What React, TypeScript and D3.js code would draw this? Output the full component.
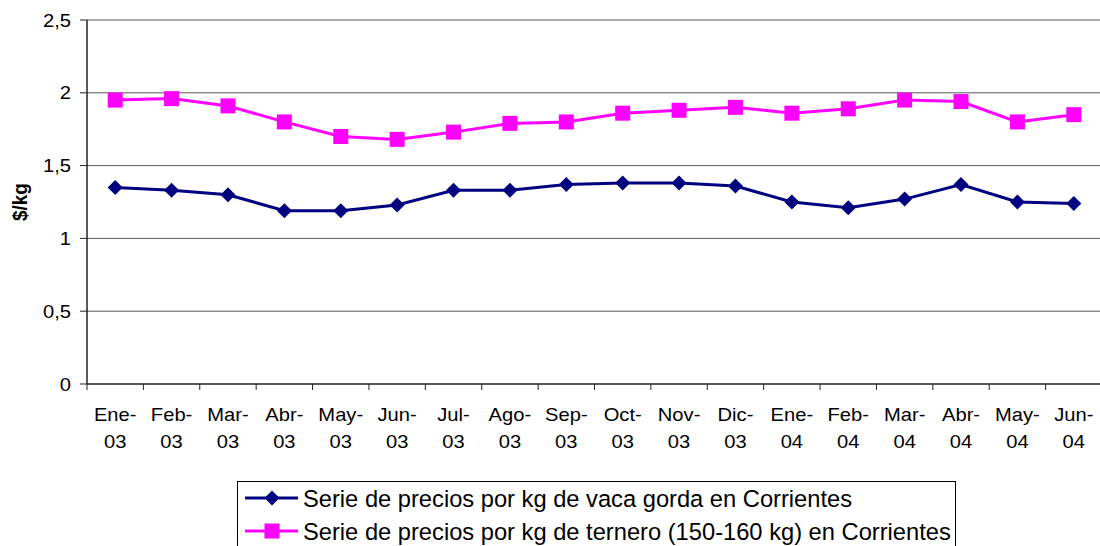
import React from "react";
import * as d3 from "d3";

const categories = [
  "Ene-03", "Feb-03", "Mar-03", "Abr-03", "May-03", "Jun-03", "Jul-03", "Ago-03", "Sep-03",
  "Oct-03", "Nov-03", "Dic-03", "Ene-04", "Feb-04", "Mar-04", "Abr-04", "May-04", "Jun-04",
];
const vacaGorda = [1.35, 1.33, 1.30, 1.19, 1.19, 1.23, 1.33, 1.33, 1.37, 1.38, 1.38, 1.36, 1.25, 1.21, 1.27, 1.37, 1.25, 1.24];
const ternero = [1.95, 1.96, 1.91, 1.80, 1.70, 1.68, 1.73, 1.79, 1.80, 1.86, 1.88, 1.90, 1.86, 1.89, 1.95, 1.94, 1.80, 1.85];
const yTicks = [0, 0.5, 1, 1.5, 2, 2.5];
const seriesNames = [
  "Serie de precios por kg de vaca gorda en Corrientes",
  "Serie de precios por kg de ternero (150-160 kg) en Corrientes",
];

const W = 1100, H = 546;
const left = 87, right = 1102, top = 20, bottom = 384;
const BLUE = "#000080", PINK = "#FF00FF";
const FONT = "Arial, 'Liberation Sans', sans-serif";

export default function App() {
  const x = d3.scaleBand<string>().domain(categories).range([left, right]);
  const y = d3.scaleLinear().domain([0, 2.5]).range([bottom, top]);
  const cx = (c: string) => (x(c) as number) + x.bandwidth() / 2;
  const line = d3.line<number>().x((_, i) => cx(categories[i])).y((d) => y(d));
  const diamond = (px: number, py: number, r: number) =>
    `M${px},${py - r}L${px + r},${py}L${px},${py + r}L${px - r},${py}Z`;

  const fmt = (v: number) => String(v).replace(".", ",");

  return (
    <svg width={W} height={H} style={{ position: "absolute", left: 0, top: 0, background: "#fff" }} fontFamily={FONT}>
      <rect x={0} y={0} width={W} height={H} fill="#fff" />
      {/* gridlines */}
      {yTicks.filter((t) => t > 0).map((t) => (
        <line key={"g" + t} x1={left} x2={right} y1={y(t)} y2={y(t)} stroke="#555" strokeWidth={1} />
      ))}
      {/* y axis */}
      <line x1={left} x2={left} y1={top} y2={bottom} stroke="#222" strokeWidth={1.5} />
      {yTicks.map((t) => (
        <g key={"yt" + t}>
          <line x1={left - 7} x2={left} y1={y(t)} y2={y(t)} stroke="#222" strokeWidth={1} />
          <text transform={`translate(71,${y(t) + 6.5}) scale(1.12,1)`} textAnchor="end" fontSize={18} fill="#000">
            {fmt(t)}
          </text>
        </g>
      ))}
      <text transform={`translate(27,202) rotate(-90) scale(1.05,1.1)`} textAnchor="middle" fontSize={18} fontWeight="bold" fill="#000">
        $/kg
      </text>
      {/* x axis */}
      <line x1={left} x2={right} y1={bottom} y2={bottom} stroke="#222" strokeWidth={1.5} />
      {categories.map((c, i) => (
        <line key={"xt" + i} x1={x(c) as number} x2={x(c) as number} y1={bottom} y2={bottom + 6} stroke="#222" strokeWidth={1} />
      ))}
      {categories.map((c) => {
        const [m, yr] = c.split("-");
        return (
          <g key={"xl" + c}>
            <text transform={`translate(${cx(c)},421) scale(1.12,1)`} textAnchor="middle" fontSize={18} fill="#000">{m + "-"}</text>
            <text transform={`translate(${cx(c)},448) scale(1.12,1)`} textAnchor="middle" fontSize={18} fill="#000">{yr}</text>
          </g>
        );
      })}
      {/* series */}
      <path d={line(vacaGorda) as string} fill="none" stroke={BLUE} strokeWidth={3} />
      {vacaGorda.map((v, i) => (
        <path key={"d" + i} d={diamond(cx(categories[i]), y(v), 7.5)} fill={BLUE} />
      ))}
      <path d={line(ternero) as string} fill="none" stroke={PINK} strokeWidth={3} />
      {ternero.map((v, i) => (
        <rect key={"s" + i} x={cx(categories[i]) - 7.5} y={y(v) - 7.5} width={15} height={15} fill={PINK} />
      ))}
      {/* legend */}
      <rect x={237.5} y={481.5} width={718} height={90} fill="#fff" stroke="#000" strokeWidth={1} />
      <line x1={245} x2={298} y1={498} y2={498} stroke={BLUE} strokeWidth={3} />
      <path d={diamond(272, 498, 7.5)} fill={BLUE} />
      <text x={303} y={506.5} fontSize={23.7} fill="#000">{seriesNames[0]}</text>
      <line x1={245} x2={298} y1={531} y2={531} stroke={PINK} strokeWidth={3} />
      <rect x={264.5} y={523.5} width={15} height={15} fill={PINK} />
      <text x={303} y={539.5} fontSize={23.7} fill="#000">{seriesNames[1]}</text>
    </svg>
  );
}
